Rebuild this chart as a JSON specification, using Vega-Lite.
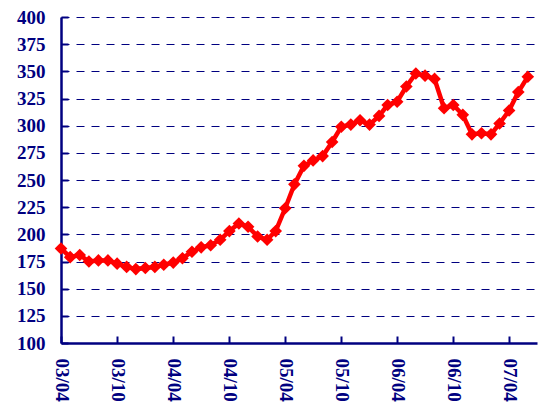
{
  "$schema": "https://vega.github.io/schema/vega-lite/v6.json",
  "width": 476,
  "height": 326,
  "autosize": {"type": "none"},
  "padding": {"left": 61, "top": 17, "right": 3, "bottom": 60},
  "background": "white",
  "config": {"view": {"stroke": null}},
  "data": {"values": [
    {"month": "2003-04-01", "value": 187},
    {"month": "2003-05-01", "value": 179},
    {"month": "2003-06-01", "value": 181},
    {"month": "2003-07-01", "value": 175},
    {"month": "2003-08-01", "value": 176},
    {"month": "2003-09-01", "value": 176},
    {"month": "2003-10-01", "value": 173},
    {"month": "2003-11-01", "value": 170},
    {"month": "2003-12-01", "value": 168},
    {"month": "2004-01-01", "value": 169},
    {"month": "2004-02-01", "value": 170},
    {"month": "2004-03-01", "value": 172},
    {"month": "2004-04-01", "value": 174},
    {"month": "2004-05-01", "value": 178},
    {"month": "2004-06-01", "value": 184},
    {"month": "2004-07-01", "value": 188},
    {"month": "2004-08-01", "value": 190},
    {"month": "2004-09-01", "value": 195},
    {"month": "2004-10-01", "value": 203},
    {"month": "2004-11-01", "value": 210},
    {"month": "2004-12-01", "value": 207},
    {"month": "2005-01-01", "value": 198},
    {"month": "2005-02-01", "value": 195},
    {"month": "2005-03-01", "value": 203},
    {"month": "2005-04-01", "value": 224},
    {"month": "2005-05-01", "value": 246},
    {"month": "2005-06-01", "value": 263},
    {"month": "2005-07-01", "value": 268},
    {"month": "2005-08-01", "value": 272},
    {"month": "2005-09-01", "value": 285},
    {"month": "2005-10-01", "value": 299},
    {"month": "2005-11-01", "value": 301},
    {"month": "2005-12-01", "value": 305},
    {"month": "2006-01-01", "value": 301},
    {"month": "2006-02-01", "value": 309},
    {"month": "2006-03-01", "value": 319},
    {"month": "2006-04-01", "value": 322},
    {"month": "2006-05-01", "value": 336},
    {"month": "2006-06-01", "value": 348},
    {"month": "2006-07-01", "value": 346},
    {"month": "2006-08-01", "value": 343},
    {"month": "2006-09-01", "value": 316},
    {"month": "2006-10-01", "value": 319},
    {"month": "2006-11-01", "value": 310},
    {"month": "2006-12-01", "value": 292},
    {"month": "2007-01-01", "value": 293},
    {"month": "2007-02-01", "value": 292},
    {"month": "2007-03-01", "value": 302},
    {"month": "2007-04-01", "value": 314},
    {"month": "2007-05-01", "value": 331},
    {"month": "2007-06-01", "value": 345}
  ]},
  "encoding": {
    "x": {
      "field": "month",
      "type": "temporal",
      "scale": {
        "type": "utc",
        "domain": [
          {"year": 2003, "month": 4, "date": 1, "utc": true},
          {"year": 2007, "month": 7, "date": 1, "utc": true}
        ],
        "nice": false
      },
      "axis": {
        "title": null,
        "values": [
          {"year": 2003, "month": 4, "date": 1, "utc": true},
          {"year": 2003, "month": 10, "date": 1, "utc": true},
          {"year": 2004, "month": 4, "date": 1, "utc": true},
          {"year": 2004, "month": 10, "date": 1, "utc": true},
          {"year": 2005, "month": 4, "date": 1, "utc": true},
          {"year": 2005, "month": 10, "date": 1, "utc": true},
          {"year": 2006, "month": 4, "date": 1, "utc": true},
          {"year": 2006, "month": 10, "date": 1, "utc": true},
          {"year": 2007, "month": 4, "date": 1, "utc": true}
        ],
        "labelExpr": "utcFormat(datum.value, '%y/%m')",
        "labelAngle": 90,
        "labelAlign": "left",
        "labelBaseline": "middle",
        "labelFont": "Liberation Serif",
        "labelFontWeight": "bold",
        "labelFontSize": 19,
        "labelColor": "#000080",
        "labelPadding": 22,
        "labelOverlap": false,
        "labelFlush": false,
        "grid": false,
        "domainColor": "#000080",
        "domainWidth": 2.5,
        "tickColor": "#000080",
        "tickWidth": 2,
        "tickSize": -7
      }
    },
    "y": {
      "field": "value",
      "type": "quantitative",
      "scale": {"domain": [100, 400], "nice": false, "zero": false},
      "axis": {
        "title": null,
        "values": [100, 125, 150, 175, 200, 225, 250, 275, 300, 325, 350, 375, 400],
        "labelFont": "Liberation Serif",
        "labelFontWeight": "bold",
        "labelFontSize": 19,
        "labelColor": "#000080",
        "labelPadding": 23,
        "grid": true,
        "gridColor": "#000080",
        "gridWidth": 1,
        "gridDash": [8, 7],
        "domainColor": "#000080",
        "domainWidth": 2.5,
        "tickColor": "#000080",
        "tickWidth": 2,
        "tickSize": -7
      }
    }
  },
  "layer": [
    {"mark": {"type": "line", "color": "#FF0000", "strokeWidth": 4.5}},
    {"mark": {"type": "point", "shape": "diamond", "filled": true, "opacity": 1, "color": "#FF0000", "size": 160}}
  ]
}
